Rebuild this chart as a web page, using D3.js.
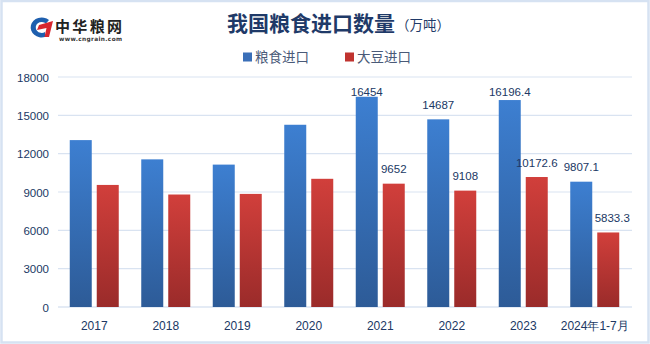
<!DOCTYPE html>
<html><head><meta charset="utf-8">
<script src="https://cdn.jsdelivr.net/npm/d3@7"></script>
<style>body{margin:0;background:#fff}svg{display:block}</style>
</head><body>
<svg id="c" width="650" height="344"></svg>
<script>
const categories = ["2017","2018","2019","2020","2021","2022","2023","2024年1-7月"];
const grain = [13062, 11555, 11144, 14262, 16454, 14687, 16196.4, 9807.1];
const soy = [9553, 8803, 8851, 10033, 9652, 9108, 10172.6, 5833.3];
const showLabel = [false,false,false,false,true,true,true,true];
const yTicks = [0,3000,6000,9000,12000,15000,18000];
const seriesNames = ["粮食进口","大豆进口"];

const svg = d3.select("#c");
const cjk = "'Noto Sans CJK SC','Noto Sans',sans-serif";
const num = "'Liberation Sans',Arial,sans-serif";
const navy = "#203864";

// border
svg.append("rect").attr("x",1.5).attr("y",1).attr("width",647).attr("height",341.5)
  .attr("fill","none").attr("stroke","#d6e2f2").attr("stroke-width",2.5);

const defs = svg.append("defs");
function grad(id, c1, c2){
  const g = defs.append("linearGradient").attr("id",id).attr("x1",0).attr("y1",0).attr("x2",0).attr("y2",1);
  g.append("stop").attr("offset","0%").attr("stop-color",c1);
  g.append("stop").attr("offset","100%").attr("stop-color",c2);
}
grad("gb","#3d7fd1","#2d5b97");
grad("gr","#d13f3b","#9a2b2a");

const x0 = d3.scaleBand().domain(categories).range([58.5,630.5]);
const y = d3.scaleLinear().domain([0,18000]).range([307,77]);

// grid
svg.append("g").selectAll("line").data(yTicks).join("line")
  .attr("x1",58).attr("x2",632).attr("y1",d=>y(d)).attr("y2",d=>y(d))
  .attr("stroke",d=>d===0?"#c9d7ec":"#d9e3f1").attr("stroke-width",1.2);

// y labels
const yAxis = d3.axisLeft(y).tickValues(yTicks).tickFormat(d3.format("d")).tickSize(0).tickPadding(0);
const ya = svg.append("g").attr("transform","translate(49,0)").call(yAxis);
ya.select(".domain").remove();
ya.selectAll("text").attr("font-family",num).attr("font-size",11.5).attr("fill",navy).attr("dy","0.35em");

// x labels
const xAxis = d3.axisBottom(x0).tickSize(0).tickPadding(0);
const xa = svg.append("g").attr("transform","translate(0,330)").call(xAxis);
xa.select(".domain").remove();
xa.selectAll("text").attr("font-family",num).attr("font-size",12).attr("fill",navy).attr("dy",0);

const bw = 22, gap = 5;
const bx = (i,s) => x0(categories[i]) + x0.bandwidth()/2 - (bw*2+gap)/2 + s*(bw+gap);

const data = [];
categories.forEach((c,i)=>{
  data.push({i, s:0, v:grain[i]});
  data.push({i, s:1, v:soy[i]});
});
svg.append("g").selectAll("rect").data(data).join("rect")
  .attr("x",d=>bx(d.i,d.s)).attr("width",bw)
  .attr("y",d=>y(d.v)).attr("height",d=>y(0)-y(d.v))
  .attr("fill",d=>d.s===0?"url(#gb)":"url(#gr)");

svg.append("g").selectAll("text").data(data.filter(d=>showLabel[d.i])).join("text")
  .attr("x",d=>bx(d.i,d.s)+bw/2 + (d.i===7&&d.s===1?4:0)).attr("y",d=>Math.max(y(d.v)-10.5,96))
  .attr("text-anchor","middle").attr("font-family",num).attr("font-size",11.5).attr("fill",navy)
  .text(d=>d.v);

// title
svg.append("text").attr("x",311).attr("y",31).attr("text-anchor","middle")
  .attr("font-family",cjk).attr("font-weight","bold").attr("font-size",21).attr("fill","#1f3a68")
  .text("我国粮食进口数量");
svg.append("text").attr("x",396).attr("y",30).attr("font-family",cjk).attr("font-size",13.5).attr("fill","#1f3a68")
  .text("（万吨）");

// legend
const lg = svg.append("g");
[[243,"#3a6fb8"],[345,"#c0332f"]].forEach((p,k)=>{
  lg.append("rect").attr("x",p[0]).attr("y",52.5).attr("width",9).attr("height",9).attr("fill",p[1]);
  lg.append("text").attr("x",p[0]+12).attr("y",62).attr("font-family",cjk).attr("font-size",13.5)
    .attr("fill","#4a5a78").text(seriesNames[k]);
});

// logo
const logo = svg.append("g");
logo.append("path").attr("d","M49,20 A11,10 0 1 0 45,37 L45,32 A6,5.5 0 1 1 46,23.5 Z").attr("fill","#1e5fae");
logo.append("path").attr("d","M39,25 L53,21 L49,37 L44.5,37 L46.5,28 L37,30 Z").attr("fill","#d8262e");
logo.append("text").attr("x",55).attr("y",32).attr("font-family",cjk).attr("font-weight","bold")
  .attr("font-size",15).attr("fill","#222").attr("textLength",67).text("中华粮网");
logo.append("text").attr("x",59).attr("y",41).attr("font-family","'DejaVu Sans',sans-serif").attr("font-weight","bold")
  .attr("font-size",5.8).attr("fill","#333").attr("textLength",63).text("www.cngrain.com");
</script>
</body></html>
